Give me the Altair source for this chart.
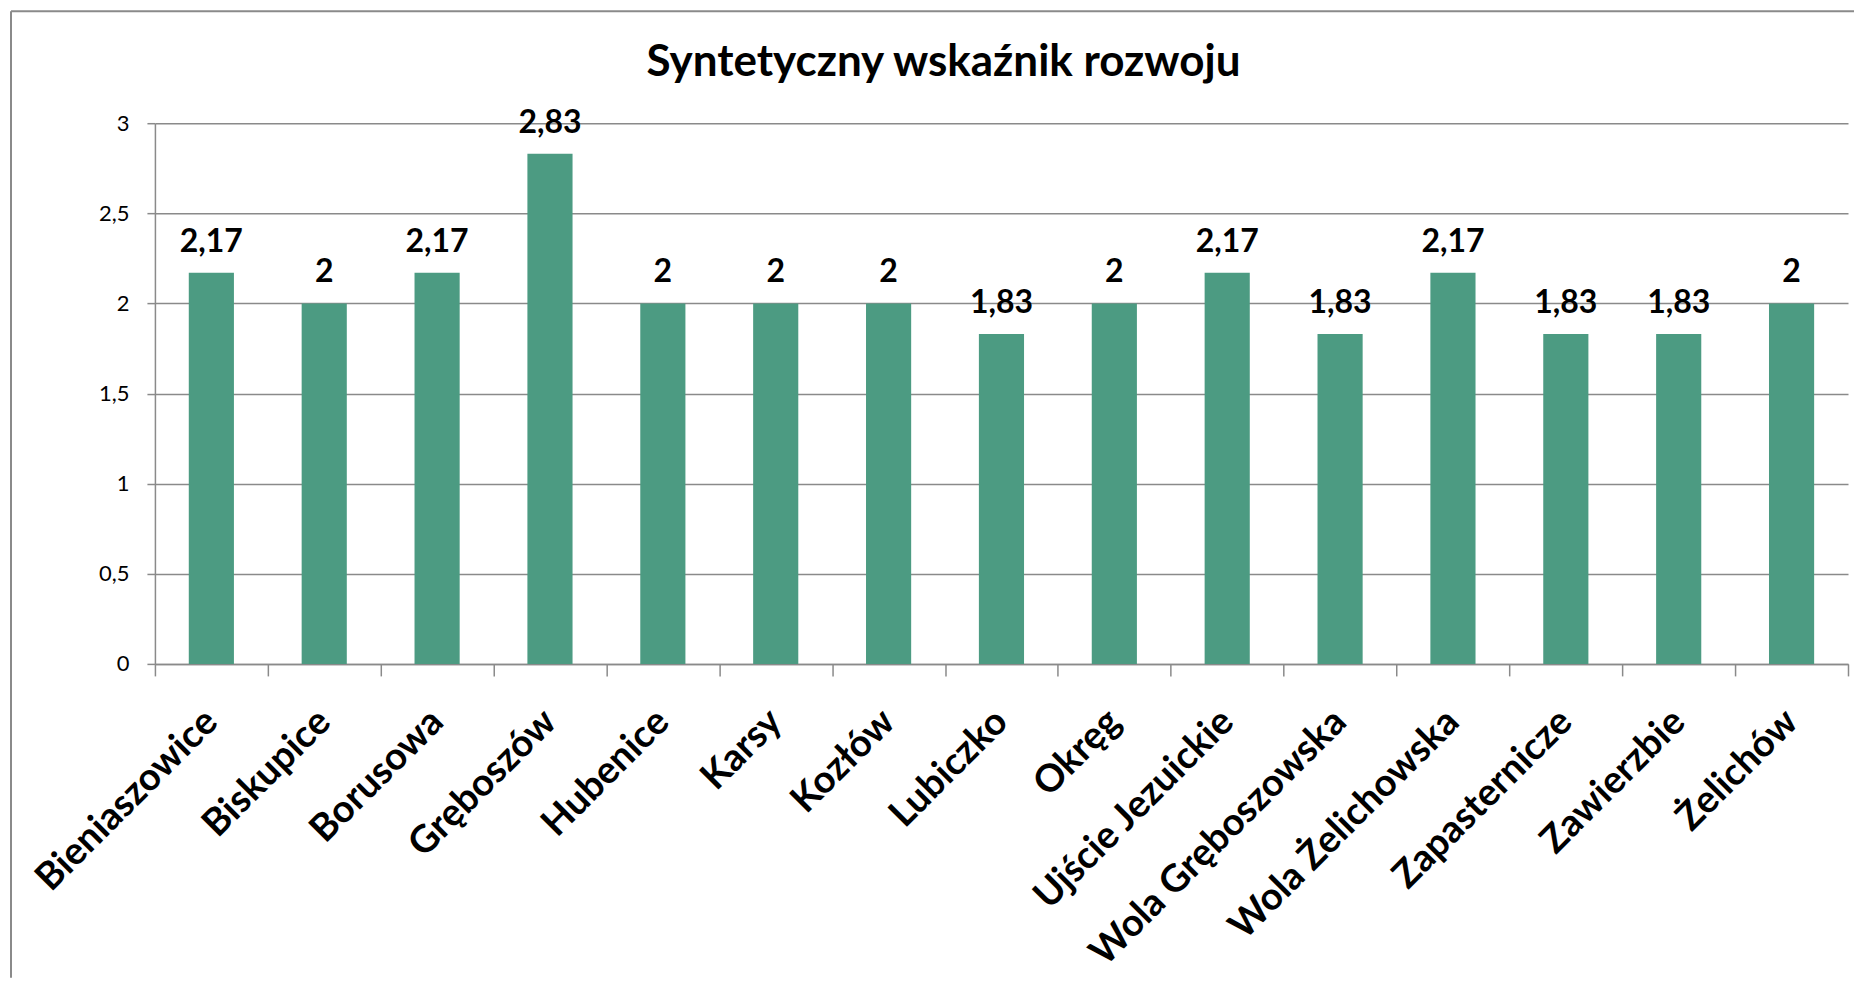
import altair as alt
import pandas as pd

categories = ["Bieniaszowice", "Biskupice", "Borusowa", "Gręboszów", "Hubenice",
              "Karsy", "Kozłów", "Lubiczko", "Okręg", "Ujście Jezuickie",
              "Wola Gręboszowska", "Wola Żelichowska", "Zapasternicze", "Zawierzbie", "Żelichów"]
values = [2.17, 2, 2.17, 2.83, 2, 2, 2, 1.83, 2, 2.17, 1.83, 2.17, 1.83, 1.83, 2]
y_ticks = [0, 0.5, 1, 1.5, 2, 2.5, 3]
title_text = "Syntetyczny wskaźnik rozwoju"

df = pd.DataFrame({"gmina": categories, "wartosc": values})
deco = pd.DataFrame({"t": [title_text]})

W, H = 1694, 541
FONT = "Lato"
GRID = "#8a8a8a"
BAR = "#4c9b82"

x_enc = alt.X("gmina:N", sort=categories, title=None,
              scale=alt.Scale(paddingInner=0, paddingOuter=0),
              axis=alt.Axis(labelAngle=-45, labelAlign="right", labelBaseline="middle",
                            labelFontSize=38, labelFont=FONT, labelFontWeight="bold",
                            labelColor="black", labelPadding=40, labelLimit=1000,
                            labelOverlap=False, tickBand="extent", tickSize=12,
                            tickColor=GRID, tickWidth=1.5, domainColor=GRID,
                            domainWidth=1.5, grid=False))
y_enc = alt.Y("wartosc:Q", title=None,
              scale=alt.Scale(domain=[0, 3], nice=False),
              axis=alt.Axis(values=y_ticks,
                            labelExpr="replace(format(datum.value, '~g'), '.', ',')",
                            labelFontSize=22, labelFont=FONT, labelColor="black",
                            labelPadding=18, tickSize=8, tickColor=GRID, tickWidth=1.5,
                            domainColor=GRID, domainWidth=1.5, gridColor=GRID,
                            gridWidth=1.5))

base = alt.Chart(df).encode(x=x_enc, y=y_enc)

bars = base.mark_bar(color=BAR, width=alt.RelativeBandSize(0.4))
labels = base.transform_calculate(
    lab="replace(format(datum.wartosc, '~g'), '.', ',')"
).mark_text(dy=-21, baseline="alphabetic", fontSize=32, fontWeight="bold",
            font=FONT, color="black").encode(text="lab:N")

title = alt.Chart(deco).mark_text(fontSize=44, fontWeight="bold", font=FONT,
                                  baseline="middle", align="center", color="black").encode(
    x=alt.value(789), y=alt.value(-60), text="t:N")

border_top = alt.Chart(deco).mark_rule(color=GRID, strokeWidth=2).encode(
    x=alt.value(-144), x2=alt.value(1700), y=alt.value(-112))
border_left = alt.Chart(deco).mark_rule(color=GRID, strokeWidth=2).encode(
    x=alt.value(-144), y=alt.value(-112), y2=alt.value(855))

chart = alt.layer(bars, labels, title, border_top, border_left).properties(
    width=W, height=H,
    padding={"left": 2, "top": 2, "right": 0, "bottom": 0},
    background="white",
).configure_view(stroke=None)

chart.save("out.html", embed_options={"renderer": "svg", "actions": False})
